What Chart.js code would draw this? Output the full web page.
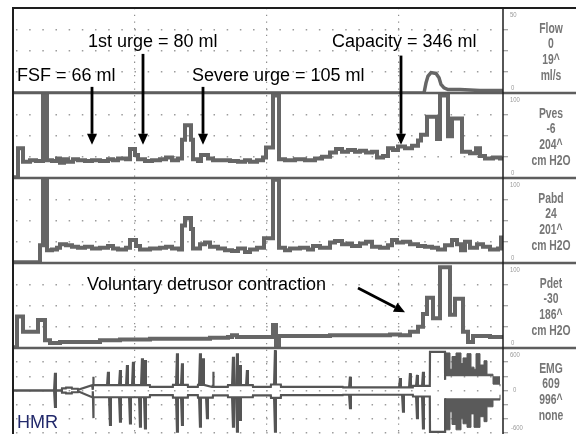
<!DOCTYPE html>
<html>
<head>
<meta charset="utf-8">
<title>Urodynamic filling and voiding trace</title>
<script src="https://cdn.jsdelivr.net/npm/chart.js@4.4.1/dist/chart.umd.min.js"></script>
<style>
    html, body { margin: 0; padding: 0; background: #fff; }
    #wrap { width: 576px; height: 434px; }
</style>
</head>
<body>
<div id="wrap"><canvas id="trace" width="576" height="434"></canvas></div>
<script>
// Time axis (s); dotted major markers on the time axis
const majorTimes = [122, 253.7, 385.3];

// Flow (ml/s)
const flowTime   = [0, 411, 413, 415, 418, 423, 426, 428, 431, 435, 447, 467, 490];
const flowValues = [0, 0, 6, 10, 12, 11.5, 9, 5, 3, 2, 2, 1.5, 1.5];

// Vesical pressure (cm H2O)
const pvesTime   = [0,5,10,17,23,30,34,39,44,47,51,55,60,65,72,79,87,95,100,105,113,117,122,125,132,139,147,153,159,165,169,172,178,180,185,188,195,200,207,217,225,232,237,244,250,253,260,266,272,282,292,302,309,317,323,329,335,342,347,353,359,364,370,375,380,385,392,399,405,408,414,424,427,435,439,449,457,463,467,472,480,487,490];
const pvesValues = [1,35,19,21,20,97,21,20,23,18,22,19,22,21,20,21,20,22,21,23,22,34,27,22,20,21,22,24,21,23,45,62,45,22,20,27,23,21,21,20,19,21,19,21,24,36,97,22,21,22,21,23,25,30,34,31,33,31,32,30,31,24,26,35,33,37,35,38,44,51,72,46,97,49,70,31,29,35,26,23,24,23,23];

// Abdominal pressure (cm H2O)
const pabdTime   = [0,27,30,34,39,44,47,53,59,65,72,79,87,95,100,105,113,117,123,127,137,147,153,159,166,169,172,178,180,187,192,197,205,212,219,225,232,237,244,251,260,266,272,277,287,295,300,307,317,322,329,335,339,347,353,359,367,375,379,384,390,397,405,412,419,425,432,439,444,448,452,457,464,470,477,485,488,490];
const pabdValues = [1,21,98,15,16,18,22,21,19,18,19,17,18,20,17,16,18,27,20,16,17,18,19,17,16,44,53,40,17,22,24,19,17,15,14,17,13,16,18,29,98,18,15,17,18,16,20,18,24,26,22,23,20,23,25,19,18,21,27,24,25,22,20,19,18,16,21,27,22,15,25,18,22,19,16,17,30,30];

// Detrusor pressure (cm H2O)
const pdetTime   = [0,4,10,25,32,37,47,67,87,107,137,167,197,215,219,224,247,260,263,266,287,317,347,377,387,397,405,410,414,420,427,437,442,450,455,460,477,490];
const pdetValues = [1,37,19,33,9,6,7,7,9,10,11,11,12,13,15,13,13,27,0,14,14,15,15,16,15,19,25,40,59,35,95,39,58,19,7,14,13,13];

// EMG envelope: resting levels, single spikes, and the voiding burst
const emgLevelTime  = [0, 49, 53, 59, 65, 80, 137, 160, 175, 185, 200, 215, 240, 258, 268, 330, 400, 417];
const emgLevelUpper = [0, 30, 40, 25, 10, 75, 50, 80, 50, 80, 50, 75, 50, 85, 50, 45, 65, 545];
const emgLevelLower = [0, -30, -40, -25, -10, -95, -65, -100, -65, -100, -70, -95, -70, -105, -65, -60, -85, -585];
const emgEnd = 432;

const emgSpikeTime  = [42, 80, 95, 97, 107, 114, 117, 120, 127, 129, 132, 164, 169, 187, 190, 194, 200, 220, 224, 227, 234, 262, 337, 387, 390, 397, 404, 410];
const emgSpikeUpper = [250, 195, 265, null, 290, 360, null, 405, null, 455, 430, 525, 385, 525, 455, null, 265, 475, 525, 360, 290, 570, 195, 175, null, 245, 220, 265];
const emgSpikeLower = [-230, -390, null, -485, -440, null, -465, null, -510, null, -535, -580, -485, -510, null, -390, null, -510, -580, -415, null, -580, -250, null, -300, null, -390, -535];

const emgBurstTime  = [432, 437, 439, 443, 448, 450, 454, 458, 461, 463, 467, 471, 474, 480, 487];
const emgBurstUpper = [530, 300, 480, 530, 380, 460, 520, 330, 300, 520, 360, 420, 230, 90, 60];
const emgBurstLower = [-555, -300, -480, -555, -400, -470, -520, -330, -520, -520, -370, -440, -230, -135, -60];

// Channel read-outs shown on the right
const channelAxes     = ['yFlow', 'yPves', 'yPabd', 'yPdet', 'yEmg'];
const channelNames    = ['Flow', 'Pves', 'Pabd', 'Pdet', 'EMG'];
const channelReadings = ['0', '-6', '24', '-30', '609'];
const channelMaxima   = ['19^', '204^', '201^', '186^', '996^'];
const channelUnits    = ['ml/s', 'cm H2O', 'cm H2O', 'cm H2O', 'none'];
const scaleTopLabels    = ['50', '100', '100', '100', '600'];
const scaleBottomLabels = ['0', '0', '0', '0', '-600'];

// Event notes
const noteText = ['FSF = 66 ml', '1st urge = 80 ml', 'Severe urge = 105 ml', 'Capacity = 346 ml', 'Voluntary detrusor contraction'];
const noteTime = [4, 75, 179, 319, 74];
const noteLevel = [7.1, 26.8, 7.1, 26.8, 68];
const noteAxis = ['yFlow', 'yFlow', 'yFlow', 'yFlow', 'yPdet'];

const arrowFromTime  = [79, 130, 190, 388, 345];
const arrowFromLevel = [3.6, 23, 3.6, 22, 70.6];
const arrowFromAxis  = ['yFlow', 'yFlow', 'yFlow', 'yFlow', 'yPdet'];
const arrowToTime    = [79, 130, 190, 388, 392];
const arrowToLevel   = [39, 39, 39, 39, 42];
const arrowToAxis    = ['yPves', 'yPves', 'yPves', 'yPves', 'yPdet'];

function toPoints(times, values) {
    return times.map((t, i) => ({ x: t, y: values[i] }));
}

function levelAt(levels, t) {
    let v = levels[0];
    emgLevelTime.forEach((lt, i) => { if (lt <= t) v = levels[i]; });
    return v;
}

// resting levels held flat, spikes drawn as narrow peaks on top
function buildEmg(levels, spikes, last) {
    const pts = [];
    emgLevelTime.forEach((t, i) => {
        const end = i + 1 < emgLevelTime.length ? emgLevelTime[i + 1] - 0.2 : emgEnd;
        pts.push({ x: t, y: levels[i] }, { x: end, y: levels[i] });
    });
    emgSpikeTime.forEach((t, i) => {
        if (spikes[i] === null) return;
        const base = levelAt(levels, t);
        pts.push({ x: t - 0.9, y: base }, { x: t, y: spikes[i] }, { x: t + 0.9, y: base });
    });
    pts.sort((a, b) => a.x - b.x);
    pts.push({ x: emgEnd + 0.1, y: last });
    return pts;
}

const TRACE = '#666';

function trace(times, values, axis, extra) {
    return Object.assign({
        data: toPoints(times, values),
        yAxisID: axis,
        borderColor: TRACE,
        borderWidth: 4,
        stepped: true,
        pointRadius: 0,
        fill: false
    }, extra || {});
}

function channelAxis(min, max, step) {
    return {
        type: 'linear',
        position: 'right',
        stack: 'channels',
        stackWeight: 1,
        min: min,
        max: max,
        ticks: { display: false, stepSize: step },
        grid: { color: '#9c9c9c', lineWidth: 1.5, drawTicks: true, tickLength: 5, tickColor: '#8c8c8c', tickWidth: 1 },
        border: { display: false, dash: [1.5, 11.67], dashOffset: 10.2 },
        afterFit: s => { s.width = 73; }
    };
}

function drawArrow(ctx, x1, y1, x2, y2) {
    const ang = Math.atan2(y2 - y1, x2 - x1);
    const head = 11, half = 5;
    const bx = x2 - head * Math.cos(ang), by = y2 - head * Math.sin(ang);
    ctx.lineWidth = 2.8;
    ctx.strokeStyle = '#000';
    ctx.fillStyle = '#000';
    ctx.beginPath();
    ctx.moveTo(x1, y1);
    ctx.lineTo(bx, by);
    ctx.stroke();
    ctx.beginPath();
    ctx.moveTo(x2, y2);
    ctx.lineTo(bx + half * Math.sin(ang), by - half * Math.cos(ang));
    ctx.lineTo(bx - half * Math.sin(ang), by + half * Math.cos(ang));
    ctx.closePath();
    ctx.fill();
}

// condensed lettering for the read-out column
function narrowText(ctx, text, x, y, squeeze) {
    ctx.save();
    ctx.translate(x, y);
    ctx.scale(squeeze, 1);
    ctx.fillText(text, 0, 0);
    ctx.restore();
}

// frame, channel separators, side read-outs and event notes
const framePlugin = {
    id: 'frame',
    afterDatasetsDraw(chart) {
        const { ctx, chartArea: a, scales } = chart;
        const W = chart.width;
        const x = scales.x;
        ctx.save();

        ctx.strokeStyle = '#5e5e5e';
        ctx.lineWidth = 2.5;
        channelAxes.slice(1).forEach(id => {
            const y = Math.round(scales[id].top);
            ctx.beginPath(); ctx.moveTo(a.left, y); ctx.lineTo(W, y); ctx.stroke();
        });

        ctx.strokeStyle = '#1e1e1e';
        ctx.lineWidth = 2;
        ctx.beginPath(); ctx.moveTo(a.left - 1, a.top); ctx.lineTo(W, a.top); ctx.stroke();
        ctx.beginPath(); ctx.moveTo(a.left, a.top); ctx.lineTo(a.left, a.bottom + 1); ctx.stroke();
        ctx.lineWidth = 1.5;
        ctx.beginPath(); ctx.moveTo(a.right, a.top); ctx.lineTo(a.right, a.bottom + 1); ctx.stroke();

        // scale limits beside the right border
        ctx.font = '7px "Liberation Sans", sans-serif';
        ctx.fillStyle = '#9a9a9a';
        ctx.textAlign = 'left';
        ctx.textBaseline = 'middle';
        channelAxes.forEach((id, i) => {
            const s = scales[id];
            narrowText(ctx, scaleTopLabels[i], a.right + 7, s.top + 7, 0.85);
            narrowText(ctx, scaleBottomLabels[i], a.right + 8, s.bottom - 5, 0.85);
        });
        narrowText(ctx, '0', a.right + 10, scales.yEmg.getPixelForValue(0), 0.85);

        // channel read-outs
        const offsets = [-21, -6, 10, 26];
        ctx.font = 'bold 14px "Liberation Sans", sans-serif';
        ctx.fillStyle = '#767676';
        ctx.textAlign = 'center';
        channelAxes.forEach((id, i) => {
            const s = scales[id];
            const mid = (s.top + s.bottom) / 2;
            [channelNames[i], channelReadings[i], channelMaxima[i], channelUnits[i]].forEach((t, k) => {
                narrowText(ctx, t, 551, mid + offsets[k], 0.74);
            });
        });

        // event notes and arrows
        ctx.font = '18px "Liberation Sans", Arial, sans-serif';
        ctx.fillStyle = '#000';
        ctx.textAlign = 'left';
        ctx.textBaseline = 'alphabetic';
        noteText.forEach((t, i) => {
            ctx.fillText(t, x.getPixelForValue(noteTime[i]), scales[noteAxis[i]].getPixelForValue(noteLevel[i]));
        });
        arrowFromTime.forEach((t, i) => {
            drawArrow(ctx,
                x.getPixelForValue(t), scales[arrowFromAxis[i]].getPixelForValue(arrowFromLevel[i]),
                x.getPixelForValue(arrowToTime[i]), scales[arrowToAxis[i]].getPixelForValue(arrowToLevel[i]));
        });

        ctx.fillStyle = '#22296b';
        ctx.fillText('HMR', a.left + 4, scales.yEmg.getPixelForValue(-529));

        ctx.restore();
    }
};

new Chart(document.getElementById('trace'), {
    type: 'line',
    data: {
        datasets: [
            trace(flowTime, flowValues, 'yFlow', { stepped: false, borderWidth: 3.5 }),
            trace(pvesTime, pvesValues, 'yPves'),
            trace(pabdTime, pabdValues, 'yPabd'),
            trace(pdetTime, pdetValues, 'yPdet'),
            {
                data: buildEmg(emgLevelUpper, emgSpikeUpper, 150),
                yAxisID: 'yEmg', borderColor: '#555', borderWidth: 2.2, pointRadius: 0, fill: false
            },
            {
                data: buildEmg(emgLevelLower, emgSpikeLower, -110),
                yAxisID: 'yEmg', borderColor: '#555', borderWidth: 2.2, pointRadius: 0, fill: false
            },
            trace(emgBurstTime, emgBurstUpper, 'yEmg', {
                borderColor: '#5a5a5a', backgroundColor: '#5a5a5a', borderWidth: 1, fill: { value: 200 }
            }),
            trace(emgBurstTime, emgBurstLower, 'yEmg', {
                borderColor: '#5a5a5a', backgroundColor: '#5a5a5a', borderWidth: 1, fill: { value: -110 }
            })
        ]
    },
    options: {
        responsive: false,
        animation: false,
        events: [],
        layout: { padding: { top: 8, left: 13, right: 0, bottom: 1 } },
        plugins: {
            legend: { display: false },
            tooltip: { enabled: false }
        },
        scales: {
            x: {
                type: 'linear',
                min: 0,
                max: 490,
                afterBuildTicks: s => { s.ticks = majorTimes.map(v => ({ value: v })); },
                ticks: { display: false },
                grid: { color: '#8e8e8e', lineWidth: 1.2, drawTicks: false },
                border: { display: false, dash: [1.3, 5.4] },
                afterFit: s => { s.height = 0; }
            },
            yFlow: channelAxis(0, 50, 12.5),
            yPves: channelAxis(0, 100, 25),
            yPabd: channelAxis(0, 100, 25),
            yPdet: channelAxis(0, 100, 25),
            yEmg: channelAxis(-600, 600, 200)
        }
    },
    plugins: [framePlugin]
});
</script>
</body>
</html>
